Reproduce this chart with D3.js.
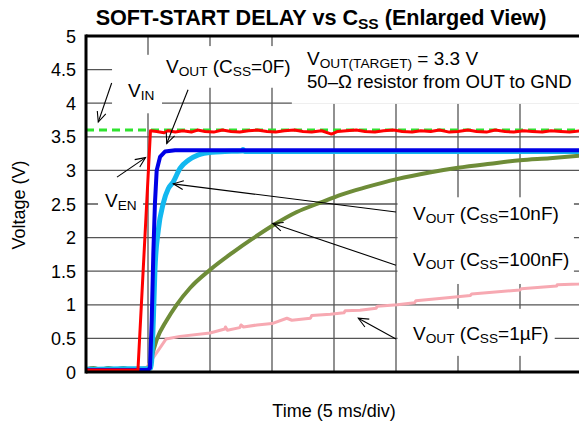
<!DOCTYPE html>
<html><head><meta charset="utf-8">
<script src="https://cdn.jsdelivr.net/npm/d3@7"></script>
<style>html,body{margin:0;padding:0;background:#fff;overflow:hidden}svg{display:block;font-family:Arial,"Liberation Sans",Helvetica,sans-serif}</style>
</head><body><svg id="c" width="579" height="423"></svg>
<script>
// ---------- data ----------
const yTicks = [0, 0.5, 1, 1.5, 2, 2.5, 3, 3.5, 4, 4.5, 5];
const yTickLabels = ["0", "0.5", "1", "1.5", "2", "2.5", "3", "3.5", "4", "4.5", "5"];
const xGrid = [5, 10, 15, 20, 25, 30, 35, 40]; // ms, 5 ms/div

// [time (ms), voltage (V)]
const vIn = [[0,3.60],[5,3.60],[10,3.60],[15,3.60],[20,3.60],[25,3.60],[30,3.60],[35,3.60],[40,3.60]];
const vEn = [[0,0.03],[4.19,0.03],[5.2,3.59],[5.7,3.58],[6.3,3.56],[6.6,3.59],[7.2,3.57],[7.8,3.59],[8.5,3.57],[9.0,3.6],[9.6,3.58],[10.3,3.57],[11.0,3.6],[11.7,3.58],[12.4,3.57],[13.1,3.59],[13.8,3.6],[14.6,3.58],[15.3,3.57],[16.0,3.59],[16.8,3.6],[17.5,3.58],[18.2,3.57],[19.0,3.59],[19.8,3.54],[20.3,3.58],[21.0,3.59],[21.8,3.6],[22.5,3.58],[23.3,3.57],[24.0,3.59],[24.8,3.6],[25.5,3.58],[26.3,3.57],[27.0,3.59],[27.8,3.58],[28.5,3.6],[29.3,3.57],[30.0,3.58],[30.8,3.6],[31.5,3.58],[32.3,3.57],[33.0,3.6],[33.8,3.58],[34.5,3.57],[35.3,3.59],[36.0,3.58],[36.8,3.57],[37.5,3.59],[38.3,3.58],[39.0,3.57],[40,3.59]];
const vOut0F = [[0,0.03],[5.0,0.03],[5.16,0.06],[5.30,0.77],[5.43,1.77],[5.56,2.51],[5.70,3.0],[5.97,3.2],[6.37,3.28],[7.18,3.30],[10,3.30],[20,3.30],[30,3.30],[40,3.30]];
const vOut10nF = [[0,0.04],[3.0,0.05],[5.0,0.05],[5.24,0.06],[5.43,0.77],[5.56,1.52],[5.83,2.11],[6.23,2.51],[6.64,2.73],[7.04,2.83],[7.58,3.03],[8.25,3.15],[9.06,3.23],[10.14,3.27],[11.2,3.28],[12.6,3.29],[12.66,3.31],[12.8,3.28],[20,3.28],[30,3.28],[40,3.28]];
const vOut100nF = [[0,0.04],[0.6,0.06],[1.2,0.03],[1.8,0.06],[2.4,0.04],[3.0,0.06],[3.6,0.03],[4.2,0.05],[5.0,0.05],[5.30,0.23],[5.70,0.48],[6.51,0.77],[7.31,1.0],[8.39,1.25],[10.0,1.52],[11.85,1.78],[13.4,1.98],[15.06,2.18],[17.0,2.38],[18.9,2.52],[20.6,2.64],[22.6,2.75],[25.06,2.87],[27.7,2.97],[30.0,3.04],[32.6,3.10],[35.0,3.15],[37.4,3.18],[40,3.22]];
const vOut1uF = [[0,0.03],[2,0.02],[4,0.03],[4.9,0.07],[5.30,0.18],[6.45,0.49],[7.58,0.53],[10.0,0.58],[11.2,0.64],[11.25,0.67],[11.4,0.62],[12.4,0.66],[12.5,0.70],[12.7,0.67],[13.8,0.70],[15.0,0.72],[16.2,0.80],[16.6,0.77],[18.1,0.80],[18.2,0.84],[19.7,0.86],[20.8,0.88],[20.9,0.91],[22.1,0.92],[23.4,0.95],[23.5,0.98],[25.1,1.0],[26.5,1.03],[26.6,1.06],[29.35,1.11],[31.0,1.14],[31.1,1.16],[35.0,1.22],[35.1,1.24],[37.96,1.28],[38.0,1.30],[39.76,1.31],[40,1.32]];

// ---------- layout ----------
const svg = d3.select("#c");
const x = d3.scaleLinear().domain([0, 40]).range([86, 582]);
const y = d3.scaleLinear().domain([0, 5]).range([372, 36]);

// gridlines
const grid = svg.append("g").attr("stroke", "#555").attr("stroke-width", 1.3);
grid.selectAll(".h").data(yTicks.slice(1, -1)).join("line")
  .attr("x1", x(0)).attr("x2", x(40)).attr("y1", d => y(d)).attr("y2", d => y(d));
grid.selectAll(".v").data(xGrid).join("line")
  .attr("y1", y(0)).attr("y2", y(5)).attr("x1", d => x(d)).attr("x2", d => x(d));

// white label boxes (in data units)
const boxes = [
  [2.10, 6.13, 4.72, 3.85],
  [6.13, 17.1, 4.85, 4.23],
  [16.6, 40, 5, 3.99],
  [0.97, 4.6, 2.77, 2.29],
  [25.12, 39.35, 2.60, 1.31],
  [25.12, 37.8, 0.94, 0.24]
];
svg.append("g").selectAll("rect").data(boxes).join("rect")
  .attr("x", d => x(d[0])).attr("y", d => y(d[2]))
  .attr("width", d => x(d[1]) - x(d[0])).attr("height", d => y(d[3]) - y(d[2]))
  .attr("fill", "#fff");

// curves
const line = d3.line().x(d => x(d[0])).y(d => y(d[1]));
const smooth = d3.line().x(d => x(d[0])).y(d => y(d[1])).curve(d3.curveMonotoneX);
const series = [
  {d: vIn, c: "#2fe32f", w: 3, dash: "8,5", gen: line},
  {d: vOut1uF, c: "#f7a9b2", w: 3, gen: line},
  {d: vOut100nF, c: "#6e8c38", w: 4, gen: smooth},
  {d: vOut10nF, c: "#12b8f0", w: 5, gen: smooth},
  {d: vOut0F, c: "#0000e6", w: 4, gen: line},
  {d: vEn, c: "#ff0000", w: 3, gen: line}
];
svg.append("g").selectAll("path").data(series).join("path")
  .attr("d", s => s.gen(s.d)).attr("fill", "none")
  .attr("stroke", s => s.c).attr("stroke-width", s => s.w)
  .attr("stroke-dasharray", s => s.dash || null)
  .attr("stroke-linejoin", "round");

// axes frame
const ax = svg.append("g").attr("stroke", "#000").attr("stroke-width", 3);
ax.append("line").attr("x1", x(0)).attr("x2", x(0)).attr("y1", y(5) - 1.5).attr("y2", y(0) + 1.5);
ax.append("line").attr("x1", x(0)).attr("x2", x(40)).attr("y1", y(0)).attr("y2", y(0));
ax.append("line").attr("x1", x(0)).attr("x2", x(40)).attr("y1", y(5)).attr("y2", y(5));

// y tick labels
svg.append("g").selectAll("text").data(yTicks).join("text")
  .attr("x", 76).attr("y", d => y(d) + 6.5).attr("text-anchor", "end")
  .attr("font-size", 18).attr("fill", "#000")
  .text((d, i) => yTickLabels[i]);

// axis titles
svg.append("text").attr("x", 334).attr("y", 417).attr("text-anchor", "middle")
  .attr("font-size", 18).text("Time (5 ms/div)");
svg.append("text").attr("transform", "translate(25,205) rotate(-90)").attr("text-anchor", "middle")
  .attr("font-size", 18).text("Voltage (V)");

// rich text helper
function rich(xp, yp, parts, size, opts = {}) {
  const t = svg.append("text").attr("x", xp).attr("y", yp).attr("font-size", size)
    .attr("font-weight", opts.bold ? "bold" : null)
    .attr("text-anchor", opts.anchor || "start").attr("fill", "#000");
  let off = 0;
  parts.forEach(p => {
    const sub = Array.isArray(p);
    const txt = sub ? p[0] : p;
    const target = sub ? (opts.subDy || 3) : 0;
    t.append("tspan").attr("dy", target - off).attr("font-size", sub ? size * 0.72 : null).text(txt);
    off = target;
  });
  return t;
}

// title
rich(321, 25, ["SOFT-START DELAY vs C", ["SS"], " (Enlarged View)"], 21.6, {bold: true, anchor: "middle", subDy: 4});

// annotations [t, V]
const FS = 19;
rich(x(17.82), y(4.57), ["V", ["OUT(TARGET)"], " = 3.3 V"], FS);
rich(x(17.82), y(4.23), ["50\u2013\u03A9 resistor from OUT to GND"], 18.6);
rich(x(6.45), y(4.45), ["V", ["OUT"], " (C", ["SS"], "=0F)"], FS);
rich(x(3.39), y(4.09), ["V", ["IN"]], FS);
rich(x(1.53), y(2.46), ["V", ["EN"]], FS);
rich(x(26.37), y(2.26), ["V", ["OUT"], " (C", ["SS"], "=10nF)"], FS);
rich(x(26.37), y(1.57), ["V", ["OUT"], " (C", ["SS"], "=100nF)"], FS);
rich(x(26.37), y(0.48), ["V", ["OUT"], " (C", ["SS"], "=1\u00B5F)"], FS);

// arrows: [fromT, fromV, toT, toV]
const arrows = [
  [2.07, 4.30, 0.99, 3.72],
  [8.23, 4.20, 6.51, 3.40],
  [2.50, 2.90, 4.80, 3.19],
  [25.0, 2.38, 7.04, 2.80],
  [25.0, 1.59, 15.06, 2.21],
  [25.0, 0.49, 21.96, 0.80]
];
const ag = svg.append("g").attr("stroke", "#000").attr("stroke-width", 1.1).attr("fill", "none");
arrows.forEach(a => {
  const x1 = x(a[0]), y1 = y(a[1]), x2 = x(a[2]), y2 = y(a[3]);
  ag.append("line").attr("x1", x1).attr("y1", y1).attr("x2", x2).attr("y2", y2);
  const ang = Math.atan2(y2 - y1, x2 - x1), L = 11, spread = 0.42;
  const p1 = [x2 - L * Math.cos(ang - spread), y2 - L * Math.sin(ang - spread)];
  const p2 = [x2 - L * Math.cos(ang + spread), y2 - L * Math.sin(ang + spread)];
  ag.append("path").attr("d", `M${p1[0]},${p1[1]}L${x2},${y2}L${p2[0]},${p2[1]}`);
});
</script></body></html>
